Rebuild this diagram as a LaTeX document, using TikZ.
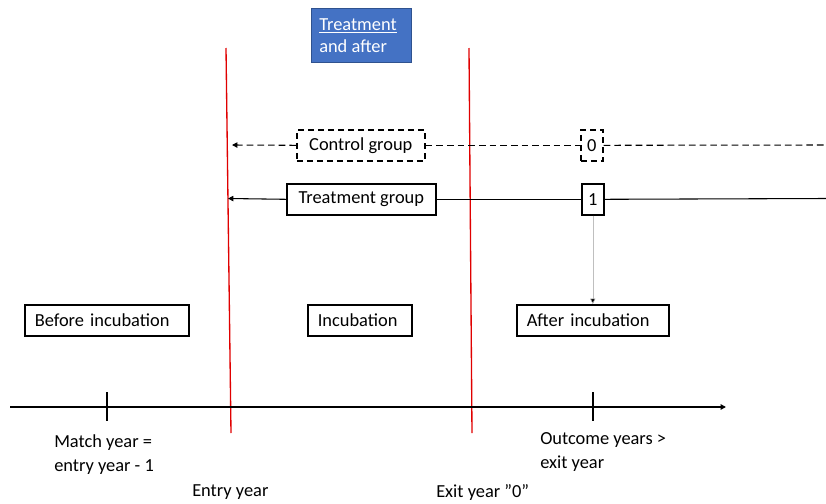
\documentclass[tikz,border=0pt]{standalone}
\usepackage{fontspec}
\setmainfont{Carlito}
\usetikzlibrary{arrows.meta}
\definecolor{boxblue}{HTML}{4472C4}
\definecolor{boxedge}{HTML}{2F528F}
\definecolor{redline}{HTML}{E00000}
\begin{document}
\begin{tikzpicture}[x=0.75pt,y=-0.75pt,
  lbl/.style={font=\fontsize{13.8}{17}\selectfont, inner sep=0pt},
  solidbox/.style={draw=black, line width=1.2pt, font=\fontsize{13.8}{17}\selectfont, inner sep=0pt, minimum height=23.25pt, anchor=north west},
  dashbox/.style={solidbox, dash pattern=on 4.5pt off 3pt},
  dashline/.style={draw=black, line width=0.8pt, dash pattern=on 5pt off 3pt},
  solidline/.style={draw=black, line width=0.8pt},
  tip/.style={-{Triangle[length=4pt,width=4pt]}},
  redl/.style={draw=redline, line width=1pt}]
\useasboundingbox (0,0) rectangle (826,504);
% blue box
\node[fill=boxblue, draw=boxedge, line width=0.5pt, anchor=north west, minimum width=75pt, minimum height=40.5pt, inner sep=0pt] (blue) at (311,8) {};
\node[lbl, text=white, anchor=north west, align=left, font=\fontsize{13.8}{17}\selectfont] (bluetxt) at (319,18) {\underline{Treatment}\\and after};
% red lines
\coordinate (r1t) at (226,48); \coordinate (r1b) at (231,433);
\coordinate (r2t) at (469,48); \coordinate (r2b) at (472,433);
\draw[redl] (r1t) -- (r1b);
\draw[redl] (r2t) -- (r2b);
% control group
\node[dashbox, minimum width=96pt] (ctrl) at (296,129) {Control group};
\node[dashbox, minimum width=16.5pt] (zero) at (580,129) {0};
\coordinate (ctip) at (232,145);
\coordinate (cend) at (826,145);
\draw[dashline, tip] (ctrl.west) -- (ctip);
\draw[dashline] (ctrl.east) -- (zero.west);
\draw[dashline] (zero.east) -- (cend);
% treatment group
\node[solidbox, minimum width=111.75pt] (treat) at (286,183) {Treatment group\hspace{4pt}};
\node[solidbox, minimum width=16.5pt] (one) at (581,183) {1};
\coordinate (ttip) at (228,198.5);
\coordinate (tend) at (826,198.5);
\draw[solidline, tip] (treat.west) -- (ttip);
\draw[solidline] (treat.east) -- (one.west);
\draw[solidline] (one.east) -- (tend);
% phase boxes
\node[solidbox, minimum width=123pt, text width=108pt, align=left] (before) at (24,304) {Before incubation};
\node[solidbox, minimum width=78pt, text width=63pt, align=left] (incub) at (307,304) {Incubation};
\node[solidbox, minimum width=114pt, text width=99pt, align=left] (after) at (516,304) {After incubation};
\draw[draw=black!25, line width=0.4pt, -{Triangle[length=4pt,width=4pt,fill=black]}] (one.south) -- (one.south |- after.north);
% axis
\coordinate (ax0) at (10,407);
\coordinate (ax1) at (726,407);
\draw[solidline, line width=1pt, -{Triangle[length=4pt,width=4pt]}] (ax0) -- (ax1);
\coordinate (t1a) at (107,392); \coordinate (t1b) at (107,421);
\coordinate (t2a) at (593,392); \coordinate (t2b) at (593,421);
\draw[solidline] (t1a) -- (t1b);
\draw[solidline] (t2a) -- (t2b);
% labels
\node[lbl, anchor=north west, align=left, font=\fontsize{13.8}{18}\selectfont] (match) at (54,434) {Match year =\\entry year - 1};
\node[lbl, anchor=north west, align=left, font=\fontsize{13.8}{18}\selectfont] (outc) at (540,432) {Outcome years >\\exit year};
\node[lbl, anchor=north west] (entry) at (192,484) {Entry year};
\node[lbl, anchor=north west] (exit) at (436,484) {Exit year ”0”};
\end{tikzpicture}
\end{document}
